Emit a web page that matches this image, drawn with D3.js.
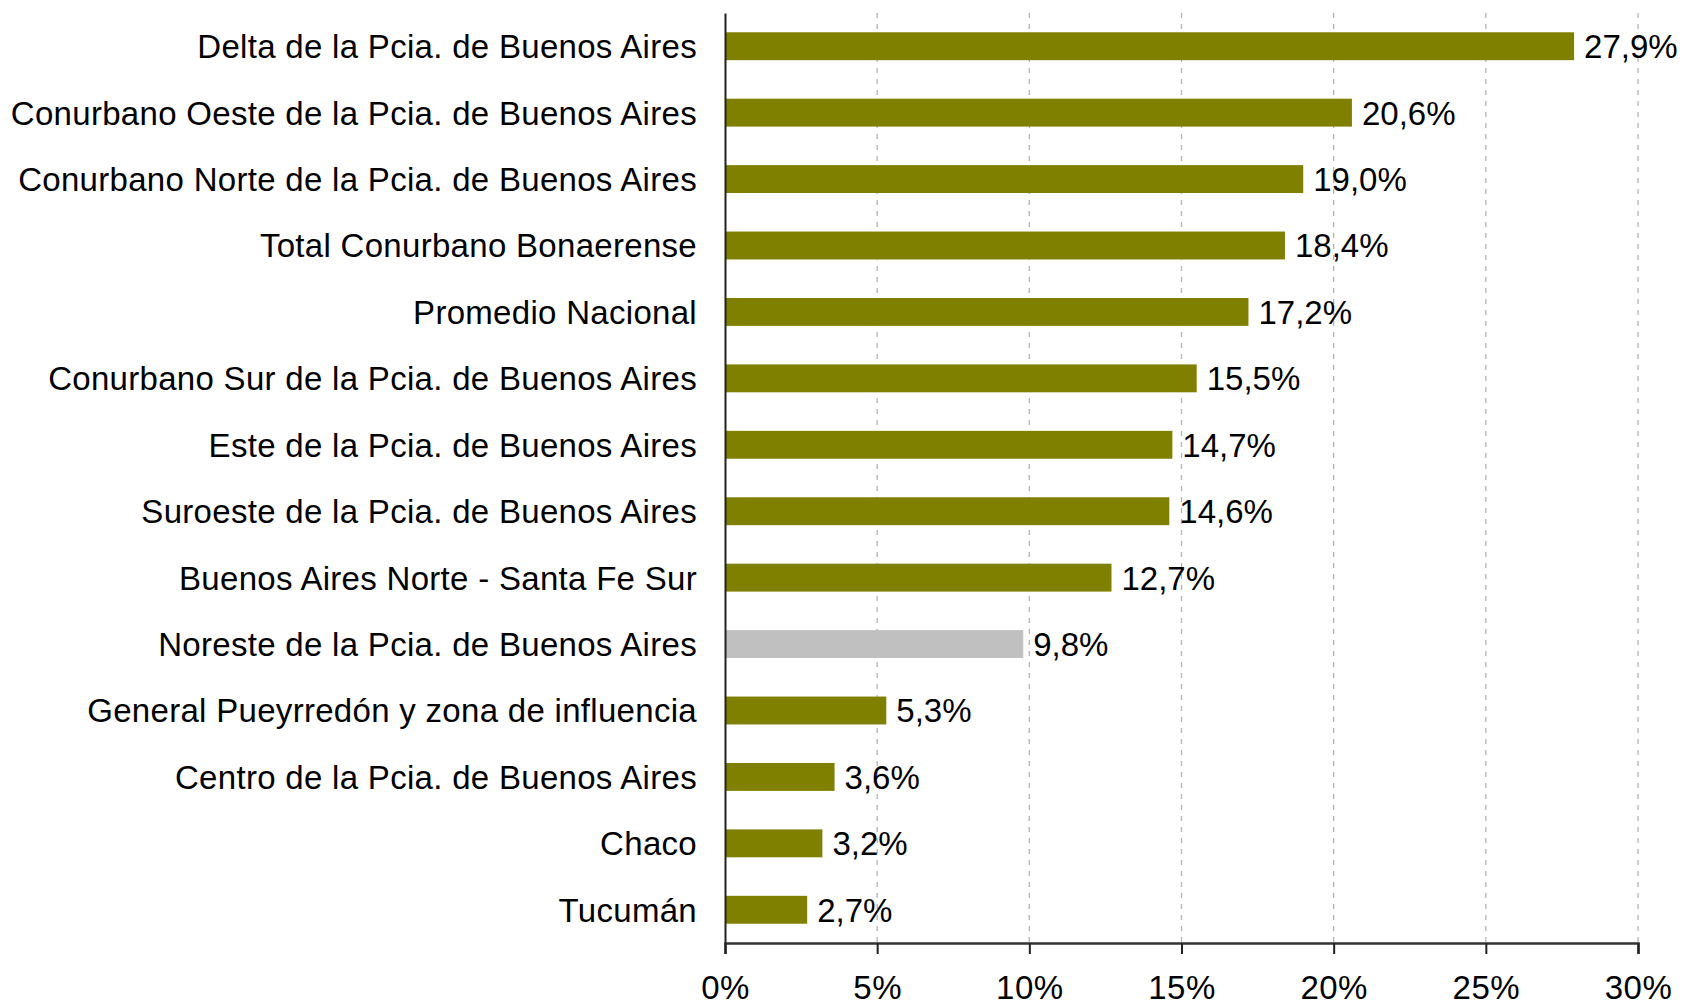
<!DOCTYPE html>
<html>
<head>
<meta charset="utf-8">
<script src="https://cdn.jsdelivr.net/npm/d3@7"></script>
<style>
  body { margin: 0; background: #fff; }
  svg text { font-family: "Liberation Sans", Arial, sans-serif; fill: #000; }
</style>
</head>
<body>
<svg id="chart" width="1684" height="1005"></svg>
<script>
// regions, top to bottom
const categories = [
    "Delta de la Pcia. de Buenos Aires",
    "Conurbano Oeste de la Pcia. de Buenos Aires",
    "Conurbano Norte de la Pcia. de Buenos Aires",
    "Total Conurbano Bonaerense",
    "Promedio Nacional",
    "Conurbano Sur de la Pcia. de Buenos Aires",
    "Este de la Pcia. de Buenos Aires",
    "Suroeste de la Pcia. de Buenos Aires",
    "Buenos Aires Norte - Santa Fe Sur",
    "Noreste de la Pcia. de Buenos Aires",
    "General Pueyrredón y zona de influencia",
    "Centro de la Pcia. de Buenos Aires",
    "Chaco",
    "Tucumán"
];
const values = [27.9, 20.6, 19.0, 18.4, 17.2, 15.5, 14.7, 14.6, 12.7, 9.8, 5.3, 3.6, 3.2, 2.7];
const highlighted = ["Noreste de la Pcia. de Buenos Aires"];
const xTicks = [0, 5, 10, 15, 20, 25, 30];

const margin = {top: 13, right: 46, bottom: 62, left: 725};
const width = 1684, height = 1005;

const svg = d3.select("#chart");

const x = d3.scaleLinear()
    .domain([0, 30])
    .range([margin.left, width - margin.right]);

const y = d3.scaleBand()
    .domain(categories)
    .range([margin.top, height - margin.bottom])
    .paddingInner(0.58)
    .paddingOuter(0.29);

const fmt = function (v) { return v.toFixed(1).replace(".", ",") + "%"; };

// dashed vertical gridlines
svg.append("g")
    .selectAll("line")
    .data(xTicks.slice(1))
    .enter().append("line")
    .attr("x1", function (d) { return x(d); })
    .attr("x2", function (d) { return x(d); })
    .attr("y1", margin.top)
    .attr("y2", height - margin.bottom)
    .attr("stroke", "#b4b4b4")
    .attr("stroke-width", 1.3)
    .attr("stroke-dasharray", "5,6");

// bars
const rows = categories.map(function (c, i) { return {name: c, value: values[i]}; });

svg.append("g")
    .selectAll("rect")
    .data(rows)
    .enter().append("rect")
    .attr("x", x(0))
    .attr("y", function (d) { return y(d.name); })
    .attr("width", function (d) { return x(d.value) - x(0); })
    .attr("height", y.bandwidth())
    .attr("fill", function (d) { return highlighted.indexOf(d.name) >= 0 ? "#c0c0c0" : "#808000"; });

// value labels
svg.append("g")
    .selectAll("text")
    .data(rows)
    .enter().append("text")
    .attr("x", function (d) { return x(d.value) + 10; })
    .attr("y", function (d) { return y(d.name) + y.bandwidth() / 2; })
    .attr("dy", "0.36em")
    .style("font-size", "33px")
    .text(function (d) { return fmt(d.value); });

// category axis
const yAxis = svg.append("g")
    .attr("transform", "translate(" + margin.left + ",0)")
    .call(d3.axisLeft(y).tickSize(0).tickPadding(28));
yAxis.select(".domain").attr("stroke", "#222").attr("stroke-width", 2);
yAxis.selectAll("text")
    .style("font-size", "33px")
    .style("letter-spacing", "0.3px")
    .attr("dy", "0.36em");

// value axis
const xAxis = svg.append("g")
    .attr("transform", "translate(0," + (height - margin.bottom) + ")")
    .call(d3.axisBottom(x).tickValues(xTicks).tickSize(11).tickPadding(22)
        .tickFormat(function (d) { return d + "%"; }));
xAxis.select(".domain").attr("stroke", "#333").attr("stroke-width", 2.5);
xAxis.selectAll(".tick line").attr("stroke", "#222").attr("stroke-width", 2);
xAxis.selectAll("text").style("font-size", "33px").style("letter-spacing", "0.5px");
</script>
</body>
</html>
